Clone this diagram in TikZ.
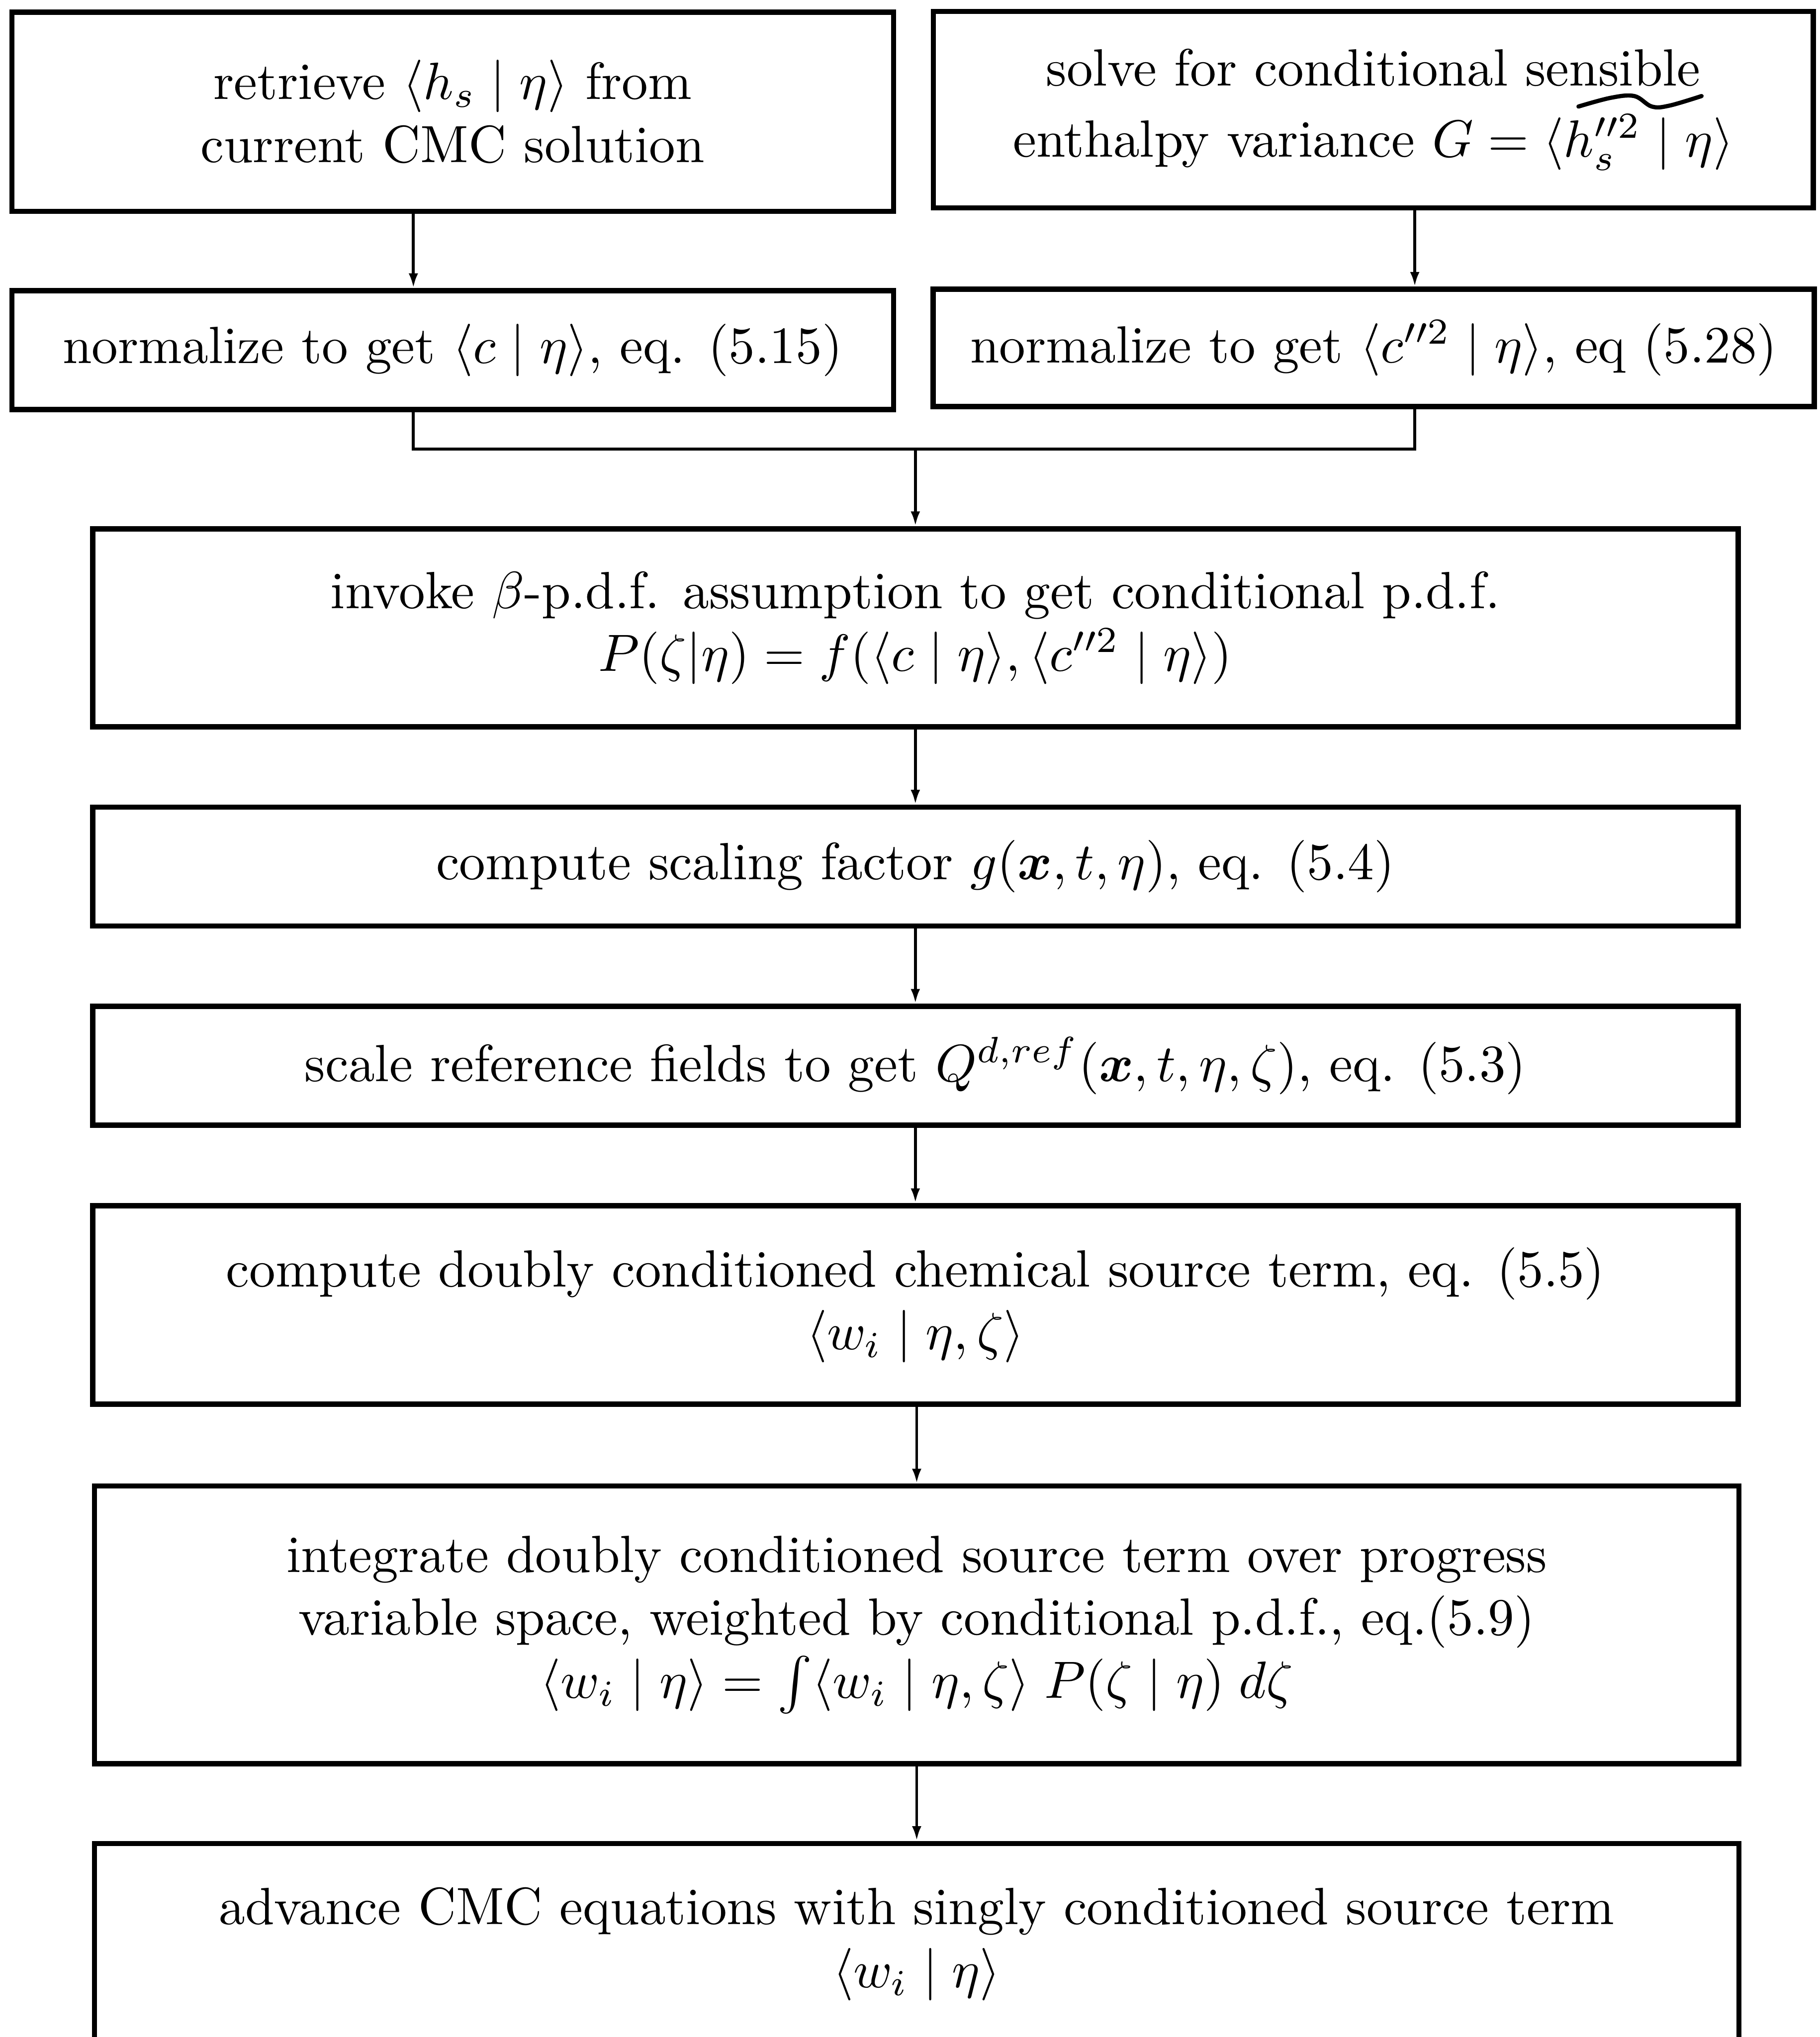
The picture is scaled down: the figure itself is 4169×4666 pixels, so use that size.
\documentclass[tikz,border=0pt]{standalone}
\usepackage{bm}
\usetikzlibrary{arrows.meta}
\begin{document}
\begin{tikzpicture}[x=0.083333pt,y=-0.083333pt,
  box/.style={draw,line width=1pt,inner sep=0pt,align=center,font=\fontsize{10}{12}\selectfont},
  conn/.style={line width=0.55pt},
  arr/.style={conn,-{Latex[length=2.8pt,width=1.8pt]}}]
\useasboundingbox (0,0) rectangle (4169,4666);
\clip (0,0) rectangle (4169,4666);
\fill[white] (0,0) rectangle (4169,4666);
% top row
\node[box,minimum width=168.3pt,minimum height=38pt] (b1) at (1037,256)
  {retrieve $\langle h_s \mid \eta\rangle$ from\\current CMC solution};
\node[box,minimum width=168pt,minimum height=37.5pt] (b2) at (3146,251)
  {solve for conditional sensible\\[1.6pt]enthalpy variance $G=\langle h_s''^2 \mid \eta\rangle$};
\node[box,minimum width=168.3pt,minimum height=22.7pt] (b3) at (1037,802)
  {normalize to get $\langle c \mid \eta\rangle$, eq. (5.15)};
\node[box,minimum width=168.2pt,minimum height=22.4pt] (b4) at (3147,797)
  {normalize to get $\langle c''^2 \mid \eta\rangle$, eq (5.28)};
% main column
\node[box,minimum width=314.1pt,minimum height=37.8pt] (b5) at (2097,1438)
  {invoke $\beta$-p.d.f. assumption to get conditional p.d.f.\\
   $P(\zeta|\eta)=f(\langle c \mid \eta\rangle,\langle c''^2 \mid \eta\rangle)$};
\node[box,minimum width=314.1pt,minimum height=22.7pt] (b6) at (2097,1985)
  {compute scaling factor $g(\bm{x},t,\eta)$, eq. (5.4)};
\node[box,minimum width=314.1pt,minimum height=22.7pt] (b7) at (2097,2441)
  {scale reference fields to get $Q^{d,ref}(\bm{x},t,\eta,\zeta)$, eq. (5.3)};
\node[box,minimum width=314.1pt,minimum height=37.9pt] (b8) at (2097,2989)
  {compute doubly conditioned chemical source term, eq. (5.5)\\
   $\langle w_i \mid \eta,\zeta\rangle$};
\node[box,minimum width=313.9pt,minimum height=53pt] (b9) at (2100,3722)
  {integrate doubly conditioned source term over progress\\
   variable space, weighted by conditional p.d.f., eq.(5.9)\\
   $\langle w_i \mid \eta\rangle=\int\langle w_i \mid \eta,\zeta\rangle\;P(\zeta \mid \eta)\;d\zeta$};
\node[box,minimum width=313.9pt,minimum height=38.4pt] (b10) at (2100,4453)
  {advance CMC equations with singly conditioned source term\\
   $\langle w_i \mid \eta\rangle$};
% connector guides
\coordinate (lx) at (947,0);
\coordinate (rx) at (3241,0);
\coordinate (m) at (2097,1029);
\draw[arr] (b1.south -| lx) -- (b3.north -| lx);
\draw[arr] (b2.south -| rx) -- (b4.north -| rx);
\draw[conn] (b3.south -| lx) |- (m) -| (b4.south -| rx);
\draw[arr] (m) -- (b5.north);
\draw[arr] (b5.south) -- (b6.north);
\draw[arr] (b6.south) -- (b7.north);
\draw[arr] (b7.south) -- (b8.north);
\draw[arr] (b8.south -| b9.north) -- (b9.north);
\draw[arr] (b9.south) -- (b10.north);
% hand-drawn squiggle under "sensible"
\draw[line width=0.8pt,line cap=round] plot[smooth,tension=0.6] coordinates
  {(3616,244) (3690,224) (3744,220) (3784,244) (3824,242) (3898,220)};
\end{tikzpicture}
\end{document}
